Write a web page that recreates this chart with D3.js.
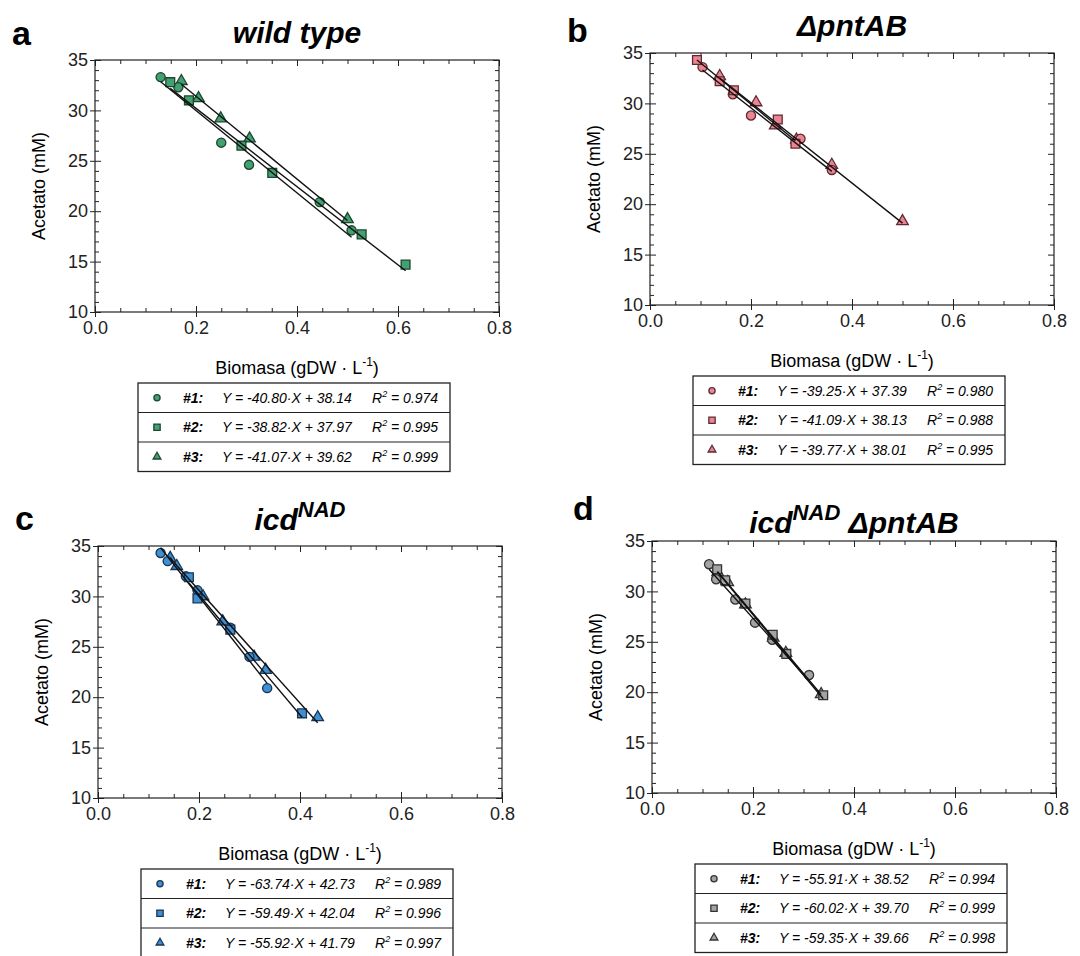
<!DOCTYPE html>
<html>
<head>
<meta charset="utf-8">
<script src="https://cdn.jsdelivr.net/npm/d3@7"></script>
<style>
  body { margin: 0; background: #fff; }
  svg { font-family: "Liberation Sans", Arial, sans-serif; }
</style>
</head>
<body>
<div id="chart"></div>
<script>
var xTickValues = [0, 0.2, 0.4, 0.6, 0.8];
var yTickValues = [10, 15, 20, 25, 30, 35];
var seriesLabels = ['#1:', '#2:', '#3:'];

// a - wild type
var wtCircles = [[0.130, 33.3], [0.165, 32.3], [0.250, 26.8], [0.305, 24.6], [0.445, 20.9], [0.508, 18.1]];
var wtSquares = [[0.149, 32.8], [0.186, 31.0], [0.290, 26.5], [0.351, 23.8], [0.528, 17.7], [0.615, 14.7]];
var wtTriangles = [[0.171, 32.9], [0.205, 31.2], [0.249, 29.2], [0.306, 27.2], [0.500, 19.2]];
var wtSlopes = [-40.80, -38.82, -41.07];
var wtIntercepts = [38.14, 37.97, 39.62];
var wtR2 = ['0.974', '0.995', '0.999'];

// b - delta pntAB
var dpCircles = [[0.104, 33.6], [0.164, 30.9], [0.200, 28.8], [0.298, 26.5], [0.360, 23.4]];
var dpSquares = [[0.093, 34.3], [0.138, 32.2], [0.166, 31.3], [0.253, 28.4], [0.288, 26.0]];
var dpTriangles = [[0.138, 32.7], [0.210, 30.1], [0.248, 27.8], [0.290, 26.4], [0.360, 23.9], [0.500, 18.3]];
var dpSlopes = [-39.25, -41.09, -39.77];
var dpIntercepts = [37.39, 38.13, 38.01];
var dpR2 = ['0.980', '0.988', '0.995'];

// c - icd NAD
var icCircles = [[0.124, 34.3], [0.138, 33.5], [0.174, 32.0], [0.197, 30.6], [0.262, 26.9], [0.300, 24.0], [0.335, 20.9]];
var icSquares = [[0.180, 31.9], [0.197, 29.8], [0.262, 26.7], [0.404, 18.4]];
var icTriangles = [[0.143, 33.8], [0.156, 33.0], [0.208, 30.0], [0.247, 27.5], [0.309, 24.0], [0.332, 22.7], [0.435, 18.0]];
var icSlopes = [-63.74, -59.49, -55.92];
var icIntercepts = [42.73, 42.04, 41.79];
var icR2 = ['0.989', '0.996', '0.997'];

// d - icd NAD delta pntAB
var idCircles = [[0.113, 32.7], [0.127, 31.2], [0.165, 29.2], [0.204, 26.9], [0.238, 25.2], [0.311, 21.7]];
var idSquares = [[0.129, 32.2], [0.145, 31.1], [0.185, 28.8], [0.239, 25.7], [0.266, 23.8], [0.339, 19.7]];
var idTriangles = [[0.130, 31.9], [0.150, 30.9], [0.185, 28.7], [0.240, 25.4], [0.265, 23.9], [0.335, 19.8]];
var idSlopes = [-55.91, -60.02, -59.35];
var idIntercepts = [38.52, 39.70, 39.66];
var idR2 = ['0.994', '0.999', '0.998'];

var plotW = 404, plotH = 252;

var panels = [
    { letter: 'a', series: [wtCircles, wtSquares, wtTriangles], slopes: wtSlopes, icpts: wtIntercepts, r2: wtR2,
      title: [{ t: 'wild type' }], fill: '#43a070', stroke: '#1c4630',
      left: 95, top: 60, letterPos: [12, 45], titleY: 43 },
    { letter: 'b', series: [dpCircles, dpSquares, dpTriangles], slopes: dpSlopes, icpts: dpIntercepts, r2: dpR2,
      title: [{ t: '\u0394pntAB' }], fill: '#ec8592', stroke: '#5e2a32',
      left: 650, top: 53, letterPos: [567, 42], titleY: 36 },
    { letter: 'c', series: [icCircles, icSquares, icTriangles], slopes: icSlopes, icpts: icIntercepts, r2: icR2,
      title: [{ t: 'icd' }, { t: 'NAD', sup: true }], fill: '#3f90d2', stroke: '#1b3553',
      left: 98, top: 546, letterPos: [15, 530], titleY: 530 },
    { letter: 'd', series: [idCircles, idSquares, idTriangles], slopes: idSlopes, icpts: idIntercepts, r2: idR2,
      title: [{ t: 'icd' }, { t: 'NAD', sup: true }, { t: ' \u0394pntAB' }], fill: '#a3a3a3', stroke: '#333333',
      left: 652, top: 541, letterPos: [573, 520], titleY: 533 }
];

var shapes = [d3.symbolCircle, d3.symbolSquare, d3.symbolTriangle];
var plotSizes = [66, 78, 58];
var legendSizes = [30, 40, 26];

var svg = d3.select('#chart')
    .append('svg')
    .attr('width', 1080)
    .attr('height', 956);

function drawPanel(p) {
    var g = svg.append('g');
    var x = d3.scaleLinear().domain([0, 0.8]).range([p.left, p.left + plotW]);
    var y = d3.scaleLinear().domain([10, 35]).range([p.top + plotH, p.top]);
    var bottom = p.top + plotH, right = p.left + plotW;

    var xMinor = d3.range(1, 16).filter(function(i) { return i % 4; }).map(function(i) { return i * 0.05; });
    var yMinor = d3.range(11, 35).filter(function(i) { return i % 5; });

    // minor ticks, all four sides, pointing in
    g.append('g').attr('transform', 'translate(0,' + bottom + ')')
        .call(d3.axisBottom(x).tickValues(xMinor).tickSize(-4).tickFormat(''));
    g.append('g').attr('transform', 'translate(0,' + p.top + ')')
        .call(d3.axisTop(x).tickValues(xMinor).tickSize(-4).tickFormat(''));
    g.append('g').attr('transform', 'translate(' + p.left + ',0)')
        .call(d3.axisLeft(y).tickValues(yMinor).tickSize(-4).tickFormat(''));
    g.append('g').attr('transform', 'translate(' + right + ',0)')
        .call(d3.axisRight(y).tickValues(yMinor).tickSize(-4).tickFormat(''));

    // major ticks with labels
    var xAx = g.append('g').attr('transform', 'translate(0,' + bottom + ')')
        .call(d3.axisBottom(x).tickValues(xTickValues).tickSize(5).tickPadding(4)
            .tickFormat(d3.format('.1f')));
    xAx.selectAll('.tick line').attr('y1', -6);
    var yAx = g.append('g').attr('transform', 'translate(' + p.left + ',0)')
        .call(d3.axisLeft(y).tickValues(yTickValues).tickSize(5).tickPadding(2));
    yAx.selectAll('.tick line').attr('x1', 6);
    g.append('g').attr('transform', 'translate(0,' + p.top + ')')
        .call(d3.axisTop(x).tickValues(xTickValues).tickSize(-6).tickFormat(''));
    g.append('g').attr('transform', 'translate(' + right + ',0)')
        .call(d3.axisRight(y).tickValues(yTickValues).tickSize(-6).tickFormat(''));

    g.selectAll('.domain').remove();
    g.selectAll('.tick line').attr('stroke', '#222').attr('stroke-width', 1);
    g.selectAll('.tick text').attr('font-size', 18).attr('fill', '#222')
        .attr('font-family', '"Liberation Sans", Arial, sans-serif');

    g.append('rect')
        .attr('x', p.left).attr('y', p.top)
        .attr('width', plotW).attr('height', plotH)
        .attr('fill', 'none').attr('stroke', '#222').attr('stroke-width', 1.2);

    // points: triangles, circles, squares
    [2, 0, 1].forEach(function(si) {
        g.append('g').selectAll('path')
            .data(p.series[si])
            .enter()
            .append('path')
            .attr('transform', function(d) { return 'translate(' + x(d[0]) + ',' + y(d[1]) + ')'; })
            .attr('d', d3.symbol().type(shapes[si]).size(plotSizes[si]))
            .attr('fill', p.fill)
            .attr('stroke', p.stroke)
            .attr('stroke-width', 1.3);
    });

    // regression lines over the range of each series
    p.series.forEach(function(s, si) {
        var ext = d3.extent(s, function(d) { return d[0]; });
        var line = ext.map(function(v) { return [v, p.slopes[si] * v + p.icpts[si]]; });
        g.append('path')
            .datum(line)
            .attr('d', d3.line().x(function(d) { return x(d[0]); }).y(function(d) { return y(d[1]); }))
            .attr('fill', 'none')
            .attr('stroke', '#111')
            .attr('stroke-width', 1.4);
    });

    // panel letter and title
    g.append('text')
        .attr('x', p.letterPos[0]).attr('y', p.letterPos[1])
        .attr('font-size', 34).attr('font-weight', 'bold')
        .text(p.letter);

    var title = g.append('text')
        .attr('x', p.left + plotW / 2).attr('y', p.titleY)
        .attr('text-anchor', 'middle')
        .attr('font-size', 30).attr('font-weight', 'bold').attr('font-style', 'italic');
    var raised = false;
    p.title.forEach(function(part) {
        var ts = title.append('tspan').text(part.t);
        if (part.sup) {
            ts.attr('font-size', 22).attr('dy', -13);
            raised = true;
        } else if (raised) {
            ts.attr('dy', 13);
            raised = false;
        }
    });

    // axis titles
    g.append('text')
        .attr('transform', 'translate(' + (p.left - 50) + ',' + (p.top + plotH / 2) + ') rotate(-90)')
        .attr('text-anchor', 'middle')
        .attr('font-size', 18)
        .text('Acetato (mM)');

    var xl = g.append('text')
        .attr('x', p.left + plotW / 2).attr('y', bottom + 62)
        .attr('text-anchor', 'middle')
        .attr('font-size', 18);
    xl.append('tspan').text('Biomasa (gDW \u00b7 L');
    xl.append('tspan').attr('font-size', 12).attr('dy', -8).text('-1');
    xl.append('tspan').attr('dy', 8).text(')');

    // legend box
    var lx = p.left + 43, ly = bottom + 71, lw = 312, rh = 29.5;
    var leg = g.append('g');
    leg.append('rect')
        .attr('x', lx).attr('y', ly)
        .attr('width', lw).attr('height', rh * 3)
        .attr('fill', '#fff').attr('stroke', '#222').attr('stroke-width', 1.3);
    leg.selectAll('.sep')
        .data([1, 2])
        .enter()
        .append('line')
        .attr('x1', lx).attr('x2', lx + lw)
        .attr('y1', function(d) { return ly + d * rh; })
        .attr('y2', function(d) { return ly + d * rh; })
        .attr('stroke', '#222').attr('stroke-width', 1.1);

    var rows = leg.selectAll('.row')
        .data(seriesLabels)
        .enter()
        .append('g')
        .attr('transform', function(d, i) { return 'translate(' + lx + ',' + (ly + i * rh + rh / 2) + ')'; });

    rows.append('path')
        .attr('transform', 'translate(19,0)')
        .attr('d', function(d, i) { return d3.symbol().type(shapes[i]).size(legendSizes[i])(); })
        .attr('fill', p.fill).attr('stroke', p.stroke).attr('stroke-width', 1.3);

    rows.append('text')
        .attr('x', 45).attr('y', 5)
        .attr('font-size', 14).attr('font-style', 'italic').attr('font-weight', 'bold')
        .text(function(d) { return d; });

    rows.append('text')
        .attr('x', 84).attr('y', 5)
        .attr('font-size', 14).attr('font-style', 'italic')
        .text(function(d, i) {
            return 'Y = ' + p.slopes[i].toFixed(2) + '\u00b7X + ' + p.icpts[i].toFixed(2);
        });

    var r2t = rows.append('text')
        .attr('x', 234).attr('y', 5)
        .attr('font-size', 14).attr('font-style', 'italic');
    r2t.append('tspan').text('R');
    r2t.append('tspan').attr('font-size', 9).attr('dy', -6).text('2');
    r2t.append('tspan').attr('dy', 6).text(function(d, i) { return ' = ' + p.r2[i]; });
}

panels.forEach(drawPanel);
</script>
</body>
</html>
